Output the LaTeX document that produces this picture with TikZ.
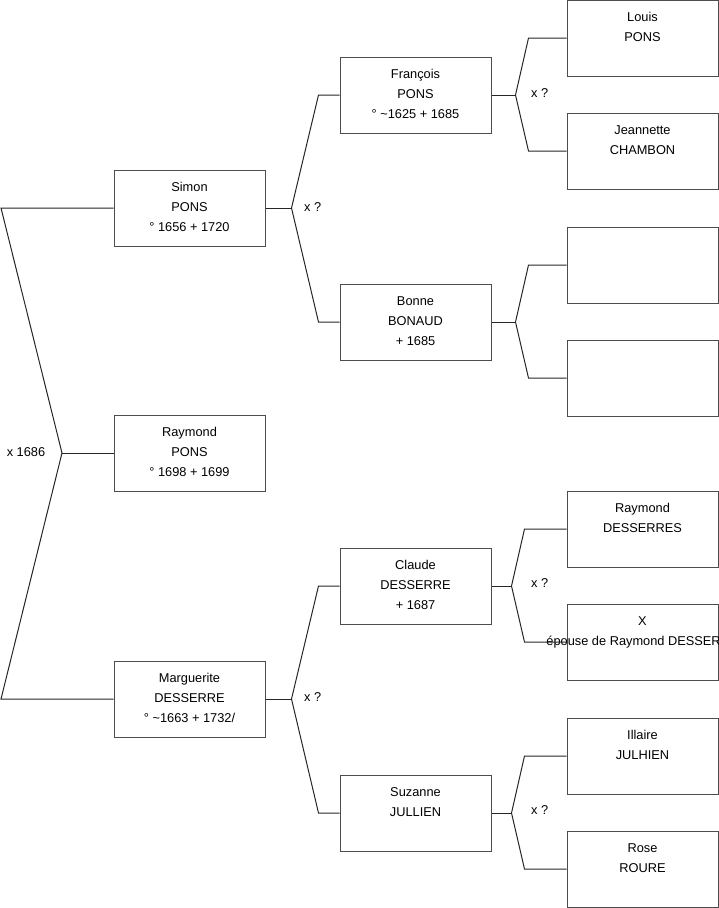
\documentclass[tikz,border=0pt]{standalone}
\usepackage{fontspec}
\setmainfont{Liberation Sans}
\usepackage{tikz}
\usetikzlibrary{positioning}

\tikzset{
  pbox/.style={draw=black!70,line width=1pt,minimum width=151pt,minimum height=76pt,inner sep=0pt},
  ptxt/.style={anchor=north,align=center,inner sep=0pt,font=\fontsize{12.8}{20}\selectfont},
  link/.style={black!85,line width=1pt},
  wedlock/.style={anchor=west,inner sep=0pt,font=\fontsize{12.8}{20}\selectfont}
}

\begin{document}
\begin{tikzpicture}[x=1pt,y=-1pt]
    \useasboundingbox (0,0) rectangle (719,908);
    % people
    \foreach \n/\pos/\txt in {
      simon/{189.5,208}/{Simon\\PONS\\° 1656 + 1720},
      raymond/{189.5,453}/{Raymond\\PONS\\° 1698 + 1699},
      marguerite/{189.5,699}/{Marguerite\\DESSERRE\\° \textasciitilde1663 + 1732/},
      francois/{415.5,95}/{François\\PONS\\° \textasciitilde1625 + 1685},
      bonne/{415.5,322}/{Bonne\\BONAUD\\+ 1685},
      claude/{415.5,586}/{Claude\\DESSERRE\\+ 1687},
      suzanne/{415.5,813}/{Suzanne\\JULLIEN},
      louis/{642.5,38}/{Louis\\PONS},
      jeannette/{642.5,151}/{Jeannette\\CHAMBON},
      bonnepere/{642.5,265}/{},
      bonnemere/{642.5,378}/{},
      raymondd/{642.5,529}/{Raymond\\DESSERRES},
      epouse/{642.5,642}/{X\\épouse de Raymond DESSERRE},
      illaire/{642.5,756}/{Illaire\\JULHIEN},
      rose/{642.5,869}/{Rose\\ROURE}} {
      \node[pbox] (\n) at (\pos) {};
      \node[ptxt] (\n-t) at ([yshift=-12.5pt]\n.north) {\txt};
    }
    % couples
    \coordinate (edge) at (1,0);
    \coordinate (k0) at (62,453);
    \draw[link] (simon.west) -- (simon.west -| edge) -- (k0) -- (marguerite.west -| edge) -- (marguerite.west);
    \draw[link] (k0) -- (raymond.west);
    \foreach \ch/\fa/\mo/\ax/\kx in {simon/francois/bonne/26/21,marguerite/claude/suzanne/26/21,
      francois/louis/jeannette/24/38,bonne/bonnepere/bonnemere/24/38,
      claude/raymondd/epouse/20/42,suzanne/illaire/rose/20/42} {
      \coordinate (\ch-k) at ([xshift=\ax]\ch.east);
      \draw[link] (\fa.west) -- ([xshift=-\kx]\fa.west) -- (\ch-k) -- ([xshift=-\kx]\mo.west) -- (\mo.west);
      \draw[link] (\ch.east) -- (\ch-k);
    }
    \node[anchor=center,inner sep=0pt,font=\fontsize{12.8}{20}\selectfont] (m0) at (26,452) {x 1686};
    \node[wedlock] (m1) at (304,207) {x ?};
    \node[wedlock] (m2) at (304,697) {x ?};
    \node[wedlock] (m3) at (531,93) {x ?};
    \node[wedlock] (m4) at (531,583) {x ?};
    \node[wedlock] (m5) at (531,810) {x ?};
\end{tikzpicture}
\end{document}
